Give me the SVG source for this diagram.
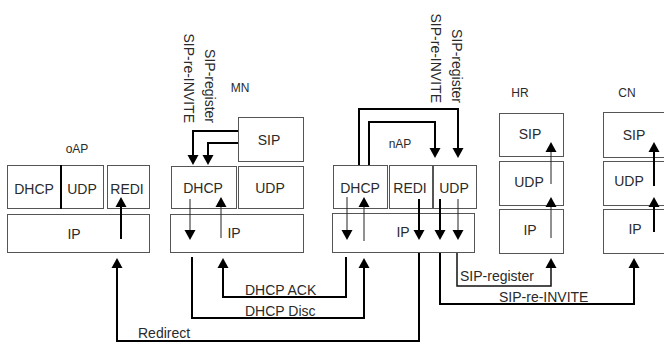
<svg xmlns="http://www.w3.org/2000/svg" width="664" height="342" viewBox="0 0 664 342">
<defs>
<style>
.box{fill:#fff;stroke:#555;stroke-width:1}
.t{font-family:"Liberation Sans",Arial,sans-serif;font-size:14px;fill:#2a2a2a}
.lbl{font-family:"Liberation Sans",Arial,sans-serif;font-size:12px;fill:#2a2a2a}
.c{text-anchor:middle}
.thick{fill:none;stroke:#000;stroke-width:2;marker-end:url(#ah)}
.thin{fill:none;stroke:#222;stroke-width:1;marker-end:url(#ah)}
.mid{fill:none;stroke:#111;stroke-width:1.5;marker-end:url(#ah)}
</style>
<marker id="ah" markerUnits="userSpaceOnUse" markerWidth="11" markerHeight="12" refX="0" refY="6" orient="auto">
<path d="M0,0.5 L10,6 L0,11.5 z" fill="#000"/>
</marker>
</defs>
<rect width="664" height="342" fill="#fff"/>

<g id="oAP">
<text class="lbl c" x="77" y="153">oAP</text>
<rect class="box" x="7.5" y="165.5" width="54" height="43"/>
<rect class="box" x="61.5" y="165.5" width="42" height="43"/>
<line x1="61" y1="165" x2="61" y2="209" stroke="#000" stroke-width="2"/>
<rect class="box" x="107.5" y="165.5" width="42" height="43"/>
<rect class="box" x="7.5" y="214.5" width="142" height="38"/>
<text class="t c" x="34" y="194">DHCP</text>
<text class="t c" x="82" y="194">UDP</text>
<text class="t c" x="127" y="194">REDI</text>
<text class="t c" x="74" y="239">IP</text>
</g>

<g id="MN">
<text class="lbl c" x="240" y="92">MN</text>
<rect class="box" x="238.5" y="117.5" width="65" height="44"/>
<rect class="box" x="171.5" y="166.5" width="65" height="42"/>
<rect class="box" x="238.5" y="166.5" width="65" height="42"/>
<rect class="box" x="170.5" y="214.5" width="133" height="38"/>
<text class="t c" x="269" y="145">SIP</text>
<text class="t c" x="203" y="193">DHCP</text>
<text class="t c" x="270" y="193">UDP</text>
<text class="t c" x="234" y="238">IP</text>
</g>

<g id="nAP">
<text class="lbl c" x="400" y="148">nAP</text>
<rect class="box" x="333.5" y="165.5" width="54" height="43"/>
<rect class="box" x="389.5" y="165.5" width="43" height="43"/>
<rect class="box" x="433.5" y="165.5" width="43" height="43"/>
<rect class="box" x="332.5" y="213.5" width="142" height="39"/>
<text class="t c" x="360" y="193">DHCP</text>
<text class="t c" x="410" y="193">REDI</text>
<text class="t c" x="454" y="193">UDP</text>
<text class="t c" x="403" y="237">IP</text>
</g>

<g id="HR">
<text class="lbl c" x="520" y="97">HR</text>
<rect class="box" x="499.5" y="113.5" width="64" height="43"/>
<rect class="box" x="499.5" y="161.5" width="64" height="44"/>
<rect class="box" x="499.5" y="209.5" width="64" height="44"/>
<text class="t c" x="530" y="139">SIP</text>
<text class="t c" x="529" y="187">UDP</text>
<text class="t c" x="530" y="235">IP</text>
</g>

<g id="CN">
<text class="lbl c" x="627" y="97">CN</text>
<rect class="box" x="603.5" y="112.5" width="64" height="45"/>
<rect class="box" x="603.5" y="161.5" width="64" height="44"/>
<rect class="box" x="603.5" y="209.5" width="64" height="44"/>
<text class="t c" x="634" y="140">SIP</text>
<text class="t c" x="629" y="186">UDP</text>
<text class="t c" x="635" y="234">IP</text>
</g>

<g id="connectors">
<path class="thick" d="M238,131 H193 V155"/>
<path class="thick" d="M238,143 H208 V155"/>
<text class="t" transform="translate(184,123) rotate(90)" text-anchor="end">SIP-re-INVITE</text>
<text class="t" transform="translate(205,123) rotate(90)" text-anchor="end">SIP-register</text>

<path class="thick" d="M359,165 V109 H458 V148"/>
<path class="thick" d="M369,165 V122 H435 V148"/>
<text class="t" transform="translate(431,103) rotate(90)" text-anchor="end">SIP-re-INVITE</text>
<text class="t" transform="translate(452,103) rotate(90)" text-anchor="end">SIP-register</text>

<path class="thick" d="M121,239 V207"/>
<path class="thin" d="M190,199 V230"/>
<path class="thin" d="M221,238 V207"/>
<path class="thin" d="M347,197 V230"/>
<path class="thin" d="M364,241 V207"/>
<path class="thick" d="M419,199 V230"/>
<path class="thick" d="M440,199 V230"/>
<path class="thin" d="M458,199 V230"/>
<path class="thin" d="M551,238 V207"/>
<path class="thin" d="M551,184 V152"/>
<path class="thick" d="M654,232 V207"/>
<path class="thick" d="M654,186 V152"/>

<path class="thick" d="M192,257 V318 H364 V268"/>
<path class="thick" d="M346,257 V297 H223 V268"/>
<path class="thick" d="M419,253 V341 H117 V268"/>
<path class="mid" d="M457,253 V286 H551 V268"/>
<path class="thick" d="M440,253 V304 H634 V268"/>
<text class="t" x="245" y="295">DHCP ACK</text>
<text class="t" x="245" y="316">DHCP Disc</text>
<text class="t" x="138" y="338">Redirect</text>
<text class="t" x="460" y="281">SIP-register</text>
<text class="t" x="499" y="302">SIP-re-INVITE</text>
</g>
</svg>
